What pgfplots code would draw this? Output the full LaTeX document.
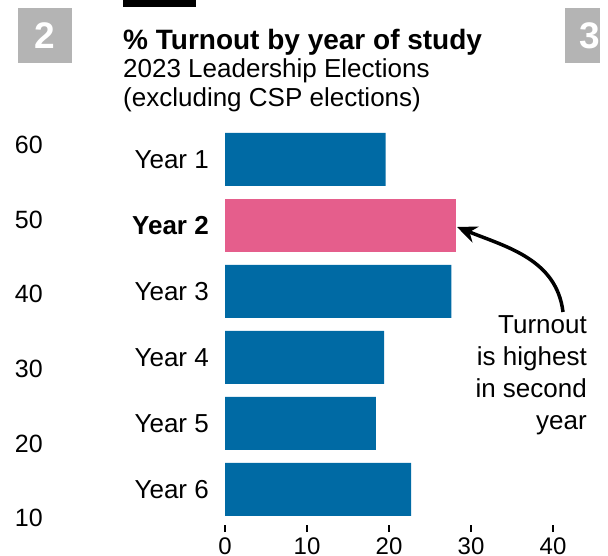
\documentclass[border=0pt]{standalone}
\usepackage{pgfplots}
\pgfplotsset{compat=1.18}
\usetikzlibrary{arrows.meta}
\usepackage{fontspec}
\setmainfont{Liberation Sans}
\definecolor{barblue}{RGB}{0,106,164}
\definecolor{barpink}{RGB}{229,94,140}
\definecolor{boxgray}{RGB}{180,180,180}
\begin{document}
\begin{tikzpicture}[x=1bp,y=1bp]
\useasboundingbox (0,0) rectangle (608,556);
% decorative pieces
\fill[black] (123,549) rectangle (196,556);
\fill[boxgray] (18,493) rectangle (72,548);
\node[white,inner sep=0pt,font=\fontsize{37bp}{40bp}\selectfont\bfseries] at (45,520.5) {2};
\begin{scope}
\clip (565,493) rectangle (600,548);
\fill[boxgray] (565,493) rectangle (600,548);
\node[white,inner sep=0pt,font=\fontsize{37bp}{40bp}\selectfont\bfseries] at (590,520.5) {3};
\end{scope}
% titles
\node[anchor=base west,inner sep=0pt,font=\fontsize{28bp}{32bp}\selectfont\bfseries] at (123,506) {\% Turnout by year of study};
\node[anchor=base west,inner sep=0pt,font=\fontsize{26bp}{30bp}\selectfont] at (123,478) {2023 Leadership Elections};
\node[anchor=base west,inner sep=0pt,font=\fontsize{26bp}{30bp}\selectfont] at (123,449) {(excluding CSP elections)};

% left remnant numbers
\begin{axis}[at={(43bp,38bp)}, anchor=south west, scale only axis,
  width=1bp, height=373bp, ymin=10, ymax=60, xmin=0, xmax=1,
  hide x axis, axis line style={draw=none},
  ytick={10,20,30,40,50,60}, ytick style={draw=none}, major tick length=0pt,
  yticklabel style={anchor=east, inner sep=0pt, font=\fontsize{25bp}{30bp}\selectfont},
  /pgf/number format/assume math mode=true]
\addplot[draw=none] coordinates {(0,10) (0,60)};
\end{axis}

% main chart
\begin{axis}[at={(225bp,31bp)}, anchor=south west, scale only axis,
  width=328bp, height=398.5bp,
  xmin=0, xmax=40, ymin=0.5, ymax=6.538, y dir=reverse,
  xbar, bar width=53bp, bar shift=0pt,
  axis line style={draw=none},
  xtick={0,10,20,30,40}, ytick={1,2,3,4,5,6},
  xtick pos=bottom, ytick pos=left,
  yticklabels={Year 1,\textbf{Year 2},Year 3,Year 4,Year 5,Year 6},
  tick align=outside, major tick length=7bp,
  xtick style={black, line width=2bp},
  ytick style={draw=none},
  xticklabel style={anchor=north, inner sep=0pt, yshift=-6bp, font=\fontsize{24bp}{28bp}\selectfont},
  yticklabel style={anchor=east, inner sep=0pt, xshift=-9bp, font=\fontsize{26bp}{30bp}\selectfont},
  /pgf/number format/assume math mode=true]
\addplot[fill=barblue, draw=none] coordinates {(19.6,1) (27.6,3) (19.4,4) (18.4,5) (22.7,6)};
\addplot[fill=barpink, draw=none] coordinates {(28.2,2)};
\end{axis}

% annotation
\draw[line width=3.5bp, -{Stealth[length=20bp,width=17bp]}] (563,244) to[out=97,in=-22] (457,329);
\node[anchor=base east,inner sep=0pt,font=\fontsize{26bp}{30bp}\selectfont] at (587,222) {Turnout};
\node[anchor=base east,inner sep=0pt,font=\fontsize{26bp}{30bp}\selectfont] at (587,190) {is highest};
\node[anchor=base east,inner sep=0pt,font=\fontsize{26bp}{30bp}\selectfont] at (587,158) {in second};
\node[anchor=base east,inner sep=0pt,font=\fontsize{26bp}{30bp}\selectfont] at (587,126) {year};
\end{tikzpicture}
\end{document}
